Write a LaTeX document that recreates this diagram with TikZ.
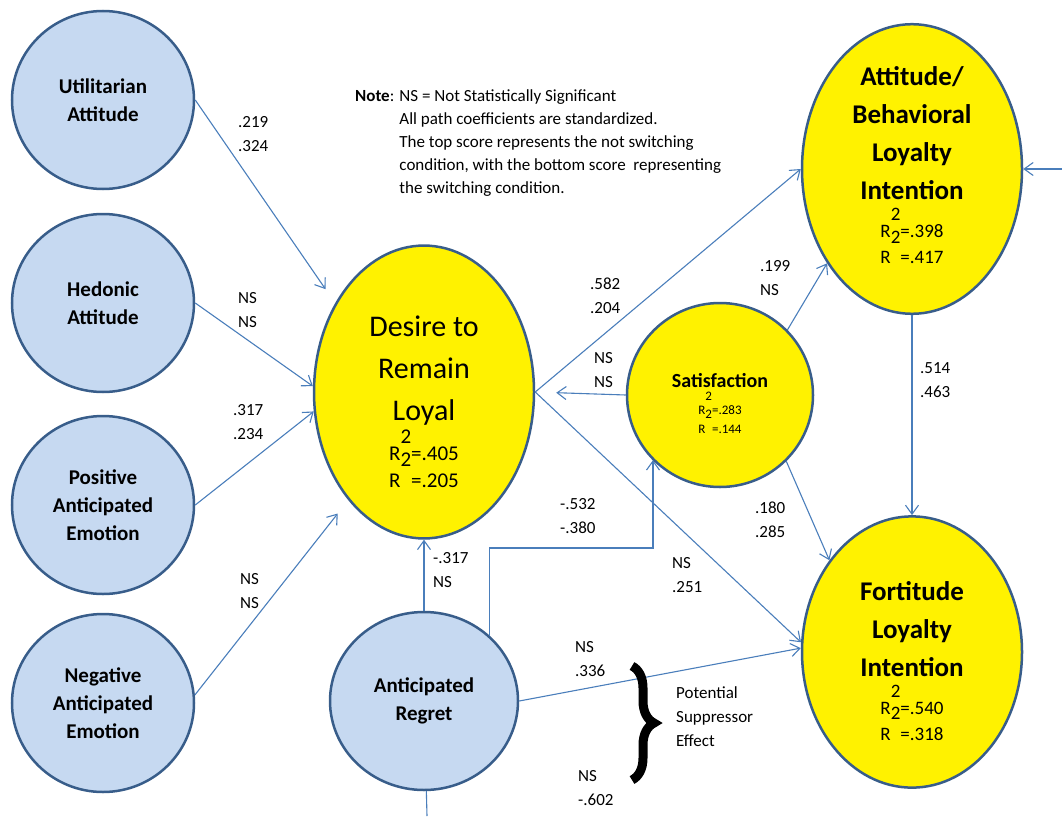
\documentclass[tikz,border=0pt]{standalone}
\usepackage{fontspec}
\setmainfont{Carlito}
\usetikzlibrary{shapes.geometric,arrows.meta,decorations.pathreplacing}
\definecolor{latentblue}{RGB}{198,217,241}
\definecolor{rimblue}{RGB}{56,93,138}
\definecolor{pathblue}{RGB}{74,126,187}
\newcommand{\rsqstack}[5]{{\fontsize{#1}{#2}\selectfont\begin{tabular}[t]{@{}c@{}}\phantom{R}2\phantom{=#3}\\[#5]R\raisebox{-0.3em}{2}=#3\\R\phantom{2}=#4\end{tabular}}}

\begin{document}
\begin{tikzpicture}[x=1pt,y=-1pt,
  exog/.style={ellipse,draw=rimblue,line width=2.5pt,fill=latentblue,minimum width=182pt,minimum height=178pt,inner sep=0pt,align=center,font=\bfseries\fontsize{21}{28}\selectfont},
  endog/.style={ellipse,draw=rimblue,line width=2.5pt,fill=yellow,inner sep=0pt,align=center},
  link/.style={draw=pathblue,line width=1.1pt,-{Straight Barb[length=9pt,width=13pt]}},
  coef/.style={anchor=west,inner sep=0pt,align=left,font=\fontsize{17}{24}\selectfont}]
  \useasboundingbox (0,0) rectangle (1062,816);

  \node[exog] (util) at (103,100) {Utilitarian\\Attitude};
  \node[exog] (hedonic) at (103,303) {Hedonic\\Attitude};
  \node[exog] (posemo) at (103,505) {Positive\\Anticipated\\Emotion};
  \node[exog] (negemo) at (103,703) {Negative\\Anticipated\\Emotion};
  \node[exog,minimum width=188pt] (regret) at (424,701) {Anticipated\\Regret};

  \node[endog,minimum width=220pt,minimum height=248pt,font=\fontsize{30}{42}\selectfont] (desire) at (424,392)
    {\rule{0pt}{48pt}Desire to\\Remain\\Loyal\\[-19pt]\rsqstack{21}{27}{.405}{.205}{-10pt}};
  \node[endog,minimum width=186pt,minimum height=184pt,font=\bfseries\fontsize{20}{24}\selectfont] (satis) at (720,395)
    {\rule{0pt}{37pt}Satisfaction\\[-11pt]{\mdseries\rsqstack{13}{19}{.283}{.144}{-5pt}}};
  \node[endog,minimum width=220pt,minimum height=252pt,font=\bfseries\fontsize{27}{38}\selectfont] (attbeh) at (912,169)
    {Attitude/\\Behavioral\\Loyalty\\Intention\\[-17pt]{\mdseries\rsqstack{19}{26}{.398}{.417}{-9pt}}};
  \node[endog,minimum width=220pt,minimum height=252pt,font=\bfseries\fontsize{27}{38}\selectfont] (fortit) at (912,652)
    {\rule{0pt}{44pt}Fortitude\\Loyalty\\Intention\\[-17pt]{\mdseries\rsqstack{19}{26}{.540}{.318}{-9pt}}};

  \coordinate (bend) at (653,548);
  \coordinate (regout) at (427,816);
  \coordinate (attin) at (1062,169);

  \draw[link,shorten >=17pt] (util.east) -- (desire.135);
  \draw[link] (hedonic.east) -- (desire.177);
  \draw[link] (posemo.east) -- (desire.190);
  \draw[link,shorten >=17pt] (negemo.5) -- (desire.235);
  \draw[link] (regret) -- (desire);
  \draw[link] (regret.45) |- (bend) -- (satis.224 -| bend);
  \draw[link] (regret.east) -- (fortit.178);
  \draw[draw=pathblue,line width=1.1pt] (regret) -- (regout);
  \draw[link,shorten >=21pt] (satis.west) -- (desire.east);
  \draw[link] (desire.east) -- (attbeh.west);
  \draw[link] (desire.east) -- (fortit.175);
  \draw[link] (satis.44) -- (attbeh.228);
  \draw[link] (satis.315) -- (fortit.132);
  \draw[link] (attbeh) -- (fortit);
  \draw[link] (attin) -- (attbeh);

  \node[coef] (c1) at (238,134) {.219\\.324};
  \node[coef] (c2) at (238,310) {NS\\NS};
  \node[coef] (c3) at (233,422) {.317\\.234};
  \node[coef] (c4) at (240,591) {NS\\NS};
  \node[coef] (c5) at (433,570) {-.317\\NS};
  \node[coef] (c6) at (560,516) {-.532\\-.380};
  \node[coef] (c7) at (672,575) {NS\\.251};
  \node[coef] (c8) at (590,296) {.582\\.204};
  \node[coef] (c9) at (594,370) {NS\\NS};
  \node[coef] (c10) at (760,278) {.199\\NS};
  \node[coef] (c11) at (755,520) {.180\\.285};
  \node[coef] (c12) at (920,380) {.514\\.463};
  \node[coef] (c13) at (575,659) {NS\\.336};
  \node[coef] (c14) at (578,788) {NS\\-.602};

  \draw[decorate,decoration={brace,amplitude=22pt},line width=9pt] (632,666) -- (632,780);
  \node[coef,font=\fontsize{17}{24}\selectfont] (suppr) at (676,717) {Potential\\Suppressor\\Effect};

  \node[anchor=north west,inner sep=0pt,font=\fontsize{17}{23}\selectfont] (note) at (355,85)
    {\textbf{Note}: \begin{tabular}[t]{@{}l@{}}NS = Not Statistically Significant\\All path coefficients are standardized.\\The top score represents the not switching\\condition, with the bottom score~ representing\\the switching condition.\end{tabular}};
\end{tikzpicture}
\end{document}
